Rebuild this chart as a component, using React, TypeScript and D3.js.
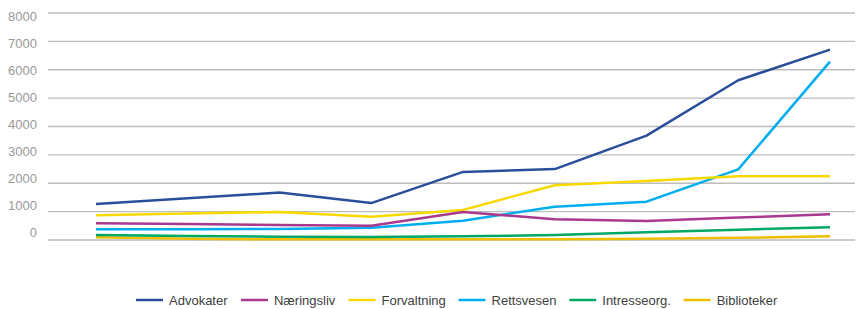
import React, { useEffect, useRef } from "react";
import * as d3 from "d3";

const periods = ["1", "2", "3", "4", "5", "6", "7", "8", "9"];
const seriesNames = ["Advokater", "Næringsliv", "Forvaltning", "Rettsvesen", "Intresseorg.", "Biblioteker"];
const advokater = [1270, 1470, 1670, 1300, 2400, 2500, 3680, 5630, 6710];
const naeringsliv = [590, 560, 530, 505, 990, 730, 670, 790, 905];
const forvaltning = [870, 930, 990, 820, 1060, 1930, 2080, 2245, 2245];
const rettsvesen = [380, 380, 385, 435, 680, 1175, 1350, 2490, 6285];
const intresseorg = [180, 145, 115, 105, 130, 175, 270, 360, 450];
const biblioteker = [95, 40, 25, 25, 30, 30, 45, 75, 130];
const yTicks = [0, 1000, 2000, 3000, 4000, 5000, 6000, 7000, 8000];
const colors = ["#2b4e9b", "#a8398d", "#f7d900", "#00aeef", "#00a865", "#eebf00"];

const App = () => {
  const ref = useRef<SVGSVGElement>(null);

  useEffect(() => {
    const width = 863;
    const height = 309;
    const svg = d3.select(ref.current)
      .attr("width", width)
      .attr("height", height)
      .style("font-family", "'Liberation Sans', Arial, sans-serif");
    svg.selectAll("*").remove();

    const values = [advokater, naeringsliv, forvaltning, rettsvesen, intresseorg, biblioteker];

    const x = d3.scalePoint().domain(periods).range([96, 830]);
    const y = d3.scaleLinear().domain([0, 8000]).range([240, 13]);
    // labels in the original sit a bit off their gridlines
    const yLabel = d3.scaleLinear().domain([0, 8000]).range([232, 16]);

    svg.append("g")
      .selectAll("line")
      .data(yTicks)
      .join("line")
      .attr("x1", 48)
      .attr("x2", 855)
      .attr("y1", d => y(d))
      .attr("y2", d => y(d))
      .attr("stroke", "#bdbdbd")
      .attr("stroke-width", 1.3);

    svg.append("g")
      .selectAll("text")
      .data(yTicks)
      .join("text")
      .attr("x", 37)
      .attr("y", d => yLabel(d))
      .attr("dy", "0.35em")
      .attr("text-anchor", "end")
      .attr("fill", "#999999")
      .attr("font-size", 13)
      .text(d => String(d));

    const line = d3.line<number>()
      .x((_, i) => x(periods[i]) as number)
      .y(d => y(d));

    // draw from the bottom series up so the dark lines stay on top
    const order = [5, 4, 3, 2, 1, 0];
    svg.append("g")
      .selectAll("path")
      .data(order)
      .join("path")
      .attr("d", i => line(values[i]))
      .attr("fill", "none")
      .attr("stroke", i => colors[i])
      .attr("stroke-width", 2.5)
      .attr("stroke-linejoin", "round");

    // legend, spread between x=136 and x=778 like the original
    const legend = svg.append("g").attr("transform", "translate(0,300)");
    const items = legend.selectAll("g")
      .data(seriesNames)
      .join("g");
    items.append("line")
      .attr("x1", 0)
      .attr("x2", 27)
      .attr("stroke", (_, i) => colors[i])
      .attr("stroke-width", 2.5);
    items.append("text")
      .attr("x", 33)
      .attr("dy", "0.35em")
      .attr("font-size", 13)
      .attr("fill", "#404040")
      .text(d => d);

    const widths: number[] = [];
    items.each(function () {
      widths.push((this as SVGGElement).getBBox().width);
    });
    const gap = (642 - d3.sum(widths)) / (widths.length - 1);
    let cx = 136;
    items.attr("transform", (_, i) => {
      const t = `translate(${cx},0)`;
      cx += widths[i] + gap;
      return t;
    });
  }, []);

  return <svg ref={ref} style={{ position: "absolute", left: 0, top: 0 }}></svg>;
};

export default App;
